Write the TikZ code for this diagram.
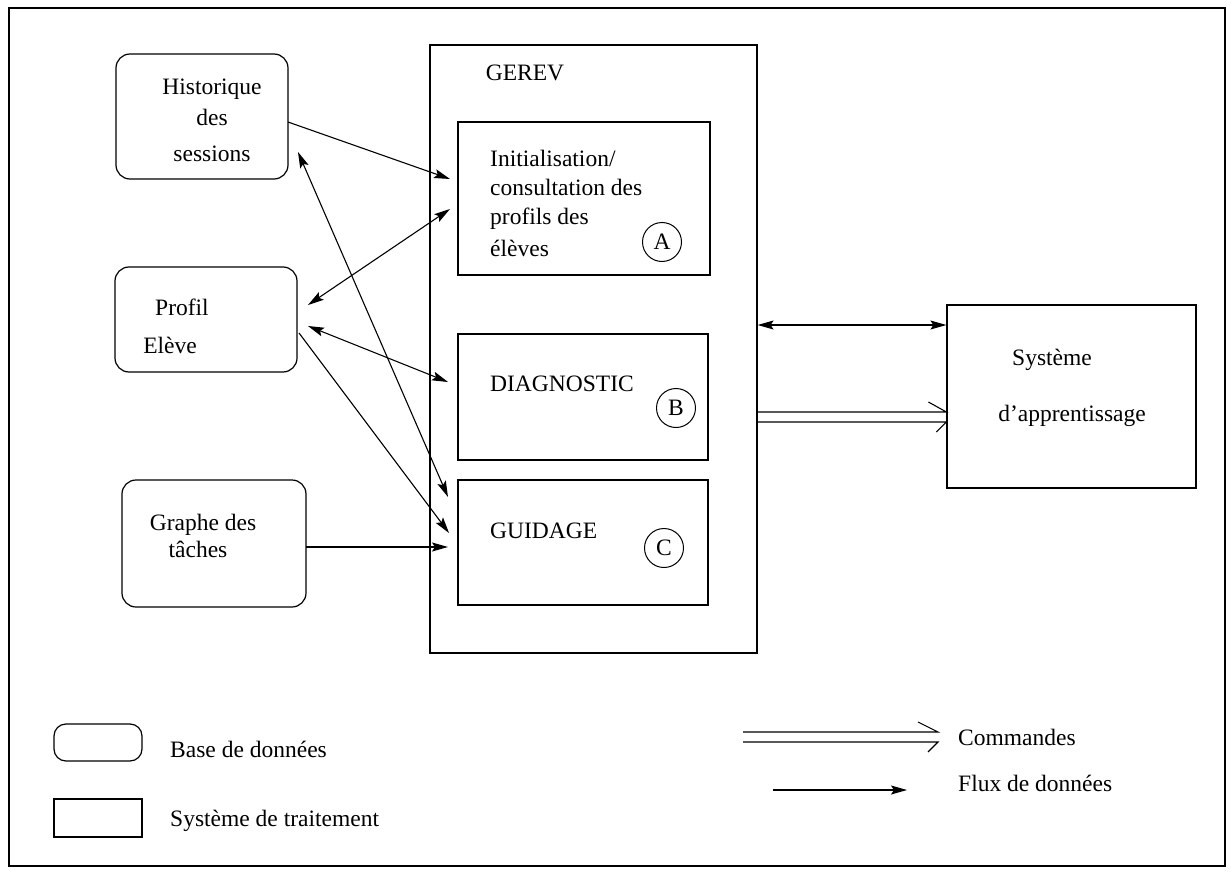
\documentclass[tikz,border=0pt]{standalone}
\usepackage{fontspec}
\setmainfont{Liberation Serif}
\usetikzlibrary{arrows.meta,calc}
\begin{document}
\begin{tikzpicture}[x=1pt,y=-1pt,
  every node/.style={font=\fontsize{23.5}{28}\selectfont, inner sep=0pt},
  proc/.style={draw, line width=1.2pt},
  lbl/.style={anchor=base},
  lbll/.style={anchor=base west},
  flow/.style={line width=1.1pt, -{Stealth[length=16pt,width=9pt,inset=3pt]}},
  flow2/.style={line width=1.1pt, {Stealth[length=16pt,width=9pt,inset=3pt]}-{Stealth[length=16pt,width=9pt,inset=3pt]}},
  cmd/.style={line width=1.1pt},
  lettre/.style={draw, circle, line width=1pt, minimum size=39pt}
]
\useasboundingbox (0,0) rectangle (1231,872);
\draw[line width=1.2pt] (9,8) rectangle (1225,866);

% data bases
\node[draw, line width=1.2pt, rounded corners=14pt, minimum width=172pt, minimum height=125pt] (hist) at (202,116.5) {};
\node[draw, line width=1.2pt, rounded corners=14pt, minimum width=182pt, minimum height=105pt] (prof) at (206,319.5) {};
\node[draw, line width=1.2pt, rounded corners=14pt, minimum width=184pt, minimum height=127pt] (graphe) at (214,543.5) {};

\node[lbl] (t1) at (212,95) {Historique};
\node[lbl] (t2) at (212,126) {des};
\node[lbl] (t3) at (212,161) {sessions};
\node[lbl] (t4) at (182,315) {Profil};
\node[lbl] (t5) at (170,353) {Elève};
\node[lbl] (t6) at (203,530) {Graphe des};
\node[lbl] (t7) at (198,557) {tâches};

% GEREV
\node[proc, minimum width=327pt, minimum height=608pt] (gerev) at (593.5,349) {};
\node[lbl] (tg) at (525,81) {GEREV};
\node[proc, minimum width=252pt, minimum height=153pt] (boxA) at (584,198.5) {};
\node[proc, minimum width=250pt, minimum height=126pt] (boxB) at (583,397) {};
\node[proc, minimum width=250pt, minimum height=125pt] (boxC) at (583,542.5) {};

\node[lbll] (ta1) at (490,166) {Initialisation/};
\node[lbll] (ta2) at (490,195) {consultation des};
\node[lbll] (ta3) at (490,224) {profils des};
\node[lbll] (ta4) at (490,256) {élèves};
\node[lettre] (cA) at (662,242) {A};
\node[lbll] (tb) at (490,391) {DIAGNOSTIC};
\node[lettre] (cB) at (676,408) {B};
\node[lbll] (tc) at (490,538) {GUIDAGE};
\node[lettre] (cC) at (664,548) {C};

% Systeme d'apprentissage
\node[proc, minimum width=249pt, minimum height=183pt] (sys) at (1071.5,396.5) {};
\node[lbl] (ts1) at (1052,365) {Système};
\node[lbl] (ts2) at (1072,421) {d'apprentissage};

% connector end points
\coordinate (h1) at (288,122);
\coordinate (a1) at (450,179);
\coordinate (a2) at (450,209);
\coordinate (p1) at (308,305);
\coordinate (h2) at (298,152);
\coordinate (c1) at (448,497);
\coordinate (p2) at (308,326);
\coordinate (b1) at (448,382);
\coordinate (p3) at (299,333);
\coordinate (c2) at (449,533);
\coordinate (g1) at (306,547);
\coordinate (c3) at (448,547);

\draw[flow] (h1) -- (a1);
\draw[flow2] (a2) -- (p1);
\draw[flow2] (h2) -- (c1);
\draw[flow2] (p2) -- (b1);
\draw[flow] (p3) -- (c2);
\draw[flow] (g1) -- (c3);

\draw[flow2] (gerev.east |- 0,325) -- (sys.west |- 0,325);

% commandes
\coordinate (k1) at (gerev.east |- 0,412);
\coordinate (k2) at (gerev.east |- 0,422);
\coordinate (k3) at (sys.west |- 0,412);
\coordinate (k4) at (sys.west |- 0,422);
\draw[cmd] (k1) -- (k3) -- ++(-18,-10);
\draw[cmd] (k2) -- (k4) -- ++(-10,10);

% legend
\node[draw, line width=1.2pt, rounded corners=12pt, minimum width=88pt, minimum height=37pt] (ldb) at (98,742.5) {};
\node[lbll] (lt1) at (170,757) {Base de données};
\node[proc, minimum width=88pt, minimum height=38pt] (lproc) at (98,818) {};
\node[lbll] (lt2) at (170,826) {Système de traitement};

\coordinate (m1) at (743,732);
\coordinate (m2) at (938,732);
\coordinate (m3) at (743,742);
\coordinate (m4) at (938,742);
\draw[cmd] (m1) -- (m2) -- ++(-20,-10);
\draw[cmd] (m3) -- (m4) -- ++(-10,10);
\node[lbll] (lt3) at (958,745) {Commandes};

\coordinate (f1) at (773,790);
\coordinate (f2) at (907,790);
\draw[flow] (f1) -- (f2);
\node[lbll] (lt4) at (958,791) {Flux de données};
\end{tikzpicture}
\end{document}
